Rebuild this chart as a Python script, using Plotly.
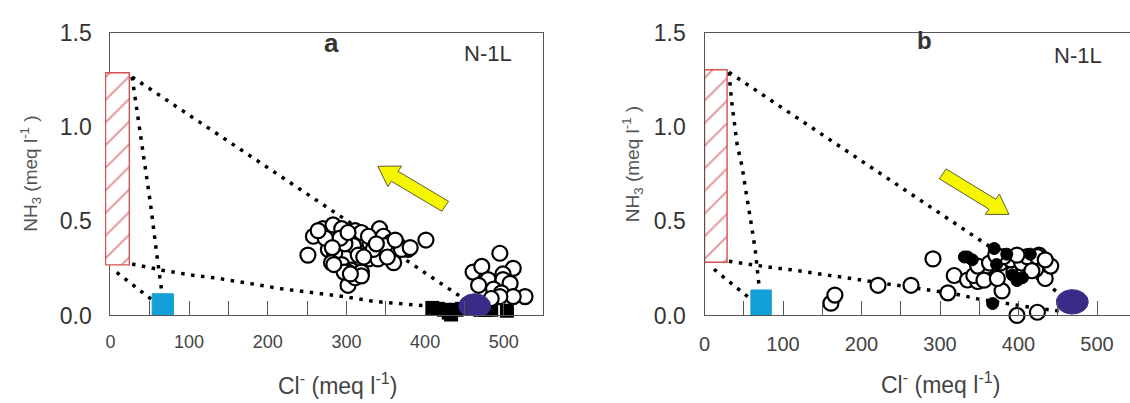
import plotly.graph_objects as go
import numpy as np

FIG_W, FIG_H = 1130, 403
FONT = "Liberation Sans, Arial, sans-serif"

# ---------------- data : panel a ----------------
a_open_cl = [251, 401, 378, 302, 258, 270, 283, 294, 311, 319, 342, 347, 357, 366, 330, 309,
             281, 277, 285, 298, 315, 328, 340, 353, 360, 281, 294, 306, 319, 311, 319, 302,
             334, 370, 349, 292, 302, 273, 264, 328, 338, 297, 305, 352, 322, 362, 282, 284,
             381, 495, 461, 472, 512, 499, 480, 499, 508, 468, 487, 497, 527, 512, 495, 484]
a_open_nh3 = [0.32, 0.40, 0.35, 0.16, 0.42, 0.46, 0.48, 0.46, 0.45, 0.44, 0.46, 0.42, 0.39, 0.37, 0.38, 0.37,
              0.38, 0.35, 0.33, 0.38, 0.32, 0.30, 0.30, 0.34, 0.28, 0.28, 0.27, 0.24, 0.23, 0.20, 0.21, 0.23,
              0.35, 0.35, 0.37, 0.41, 0.44, 0.41, 0.45, 0.42, 0.38, 0.23, 0.22, 0.31, 0.31, 0.40, 0.36, 0.27,
              0.36, 0.33, 0.23, 0.26, 0.25, 0.22, 0.19, 0.19, 0.17, 0.16, 0.14, 0.12, 0.10, 0.10, 0.10, 0.09]
a_black_cl = [409, 416, 424, 430, 433, 440, 447, 455, 462, 470, 477, 484, 504]
a_black_nh3 = [0.040, 0.035, 0.030, 0.015, 0.005, 0.030, 0.035, 0.040, 0.035, 0.030, 0.030, 0.030, 0.025]

# end-members panel a
a_rect_cl = [-6.3, 24]
a_rect_nh3 = [0.268, 1.287]
a_blue_cl = [53, 80]
a_blue_nh3 = [0.0, 0.115]
a_sea_cl, a_sea_nh3 = 463, 0.05

# mixing lines panel a
a_line1_cl = [27.5, 463]
a_line1_nh3 = [1.265, 0.05]
a_line2_cl = [27.5, 41, 50.8, 59.2, 64.7, 69.5]
a_line2_nh3 = [1.265, 0.893, 0.596, 0.314, 0.132, -0.005]
a_line3_cl = [27.5, 65.6, 101.5, 133, 184, 217.8, 260, 298, 336, 374, 403]
a_line3_nh3 = [0.273, 0.240, 0.215, 0.199, 0.165, 0.141, 0.119, 0.099, 0.074, 0.058, 0.050]
a_line4_cl = [8, 53]
a_line4_nh3 = [0.228, 0.083]

a_arrow_cl = [425.5, 340]
a_arrow_nh3 = [0.579, 0.791]

# ---------------- data : panel b ----------------
b_open_cl = [161, 166, 221, 263, 310, 291, 398, 424, 379, 434,
             318, 335, 348, 343, 360, 365, 377, 394, 394, 407, 419, 426, 441, 422, 360, 348,
             356, 373, 363, 390, 404, 411, 424, 434, 417, 381, 398, 371]
b_open_nh3 = [0.065, 0.108, 0.16, 0.16, 0.12, 0.30, 0.00, 0.017, 0.13, 0.196,
              0.212, 0.188, 0.18, 0.212, 0.204, 0.237, 0.278, 0.295, 0.229, 0.246, 0.295, 0.32, 0.262, 0.246, 0.262, 0.262,
              0.187, 0.196, 0.278, 0.295, 0.278, 0.312, 0.312, 0.295, 0.237, 0.312, 0.32, 0.32]
b_filled_cl = [331, 335, 341, 369, 367, 398, 385, 415, 405, 372, 392]
b_filled_nh3 = [0.31, 0.31, 0.295, 0.355, 0.063, 0.185, 0.325, 0.325, 0.20, 0.27, 0.215]

b_rect_cl = [0, 28.7]
b_rect_nh3 = [0.282, 1.303]
b_blue_cl = [59, 85]
b_blue_nh3 = [0.0, 0.135]
b_sea_cl, b_sea_nh3 = 468.5, 0.072

b_line1_cl = [31, 468.5]
b_line1_nh3 = [1.29, 0.072]
b_line2_cl = [31, 34.4, 41.4, 47.7, 52, 56.2, 60.4, 64.6, 66.7, 70]
b_line2_nh3 = [1.29, 1.14, 0.908, 0.792, 0.676, 0.577, 0.461, 0.345, 0.245, 0.135]
b_line3_cl = [31, 58.3, 85.8, 111.2, 162, 214.8, 267.6, 320.5, 347.8, 373, 402.6, 424, 449, 462]
b_line3_nh3 = [0.287, 0.27, 0.254, 0.242, 0.212, 0.179, 0.146, 0.113, 0.088, 0.071, 0.05, 0.038, 0.025, 0.025]
b_line4_cl = [12, 56]
b_line4_nh3 = [0.245, 0.096]

b_arrow_cl = [303.4, 387.8]
b_arrow_nh3 = [0.751, 0.536]

# ---------------- layout geometry (pixels) ----------------
Y_TOP, Y_BOT = 21, 323.3
A_L, A_R, A_XMAX = 105, 540, 550
B_L, B_R, B_XMAX = 702.3, 1130, 542
YMAX = 1.5
A_XMIN_EXT = -7  # extended (invisible) axis for the rectangle that overhangs the y-axis

ydom = [1 - Y_BOT / FIG_H, 1 - Y_TOP / FIG_H]
sy = (Y_BOT - Y_TOP) / YMAX
sx_a = (A_R - A_L) / A_XMAX
sx_b = (B_R - B_L) / B_XMAX

fig = go.Figure()


def rect_xy(xs, ys):
    return [xs[0], xs[1], xs[1], xs[0], xs[0]], [ys[0], ys[0], ys[1], ys[1], ys[0]]


def ellipse_xy(cx, cy, rx_px, ry_px, sx):
    t = np.linspace(0, 2 * np.pi, 60)
    return cx + rx_px / sx * np.cos(t), cy + ry_px / sy * np.sin(t)


def arrow_xy(xs, ys, sx, shaft=6.3, head=13, head_len=20):
    T = np.array([xs[0] * sx, ys[0] * sy])
    Hh = np.array([xs[1] * sx, ys[1] * sy])
    u = (Hh - T) / np.linalg.norm(Hh - T)
    n = np.array([-u[1], u[0]])
    B = Hh - u * head_len
    pts = [T + n * shaft, B + n * shaft, B + n * head, Hh, B - n * head, B - n * shaft, T - n * shaft, T + n * shaft]
    pts = np.array(pts)
    return pts[:, 0] / sx, pts[:, 1] / sy


def add_panel(xa, ya, rect_xa, sx, rect, blue, sea, lines, arrow, open_pts, black_pts, black_symbol, black_size):
    # mixing lines
    for lx, ly in lines:
        fig.add_trace(go.Scatter(x=lx, y=ly, mode="lines", line=dict(color="black", width=3.5, dash="3.5px,6.5px"),
                                 xaxis=xa, yaxis=ya, hoverinfo="skip"))
    # blue end-member
    bx, by = rect_xy(*blue)
    fig.add_trace(go.Scatter(x=bx, y=by, mode="lines", fill="toself", fillcolor="#139fd8",
                             line=dict(color="#139fd8", width=1), xaxis=xa, yaxis=ya, hoverinfo="skip"))
    # black markers (squares in a)
    if black_symbol == "square":
        fig.add_trace(go.Scatter(x=black_pts[0], y=black_pts[1], mode="markers", cliponaxis=False,
                                 marker=dict(symbol="square", size=black_size, color="black"),
                                 xaxis=xa, yaxis=ya))
    # open circles
    fig.add_trace(go.Scatter(x=open_pts[0], y=open_pts[1], mode="markers", cliponaxis=False,
                             marker=dict(symbol="circle", size=15, color="white", line=dict(color="black", width=2.2)),
                             xaxis=xa, yaxis=ya))
    if black_symbol != "square":
        fig.add_trace(go.Scatter(x=black_pts[0], y=black_pts[1], mode="markers", cliponaxis=False,
                                 marker=dict(symbol="circle", size=black_size, color="black",
                                             line=dict(color="black", width=1)),
                                 xaxis=xa, yaxis=ya))
    # sea-water ellipse
    ex, ey = ellipse_xy(sea[0], sea[1], 16, 13, sx)
    fig.add_trace(go.Scatter(x=ex, y=ey, mode="lines", fill="toself", fillcolor="#3b2b88",
                             line=dict(color="#3b2b88", width=1), xaxis=xa, yaxis=ya, hoverinfo="skip"))
    # yellow arrow
    ax_, ay_ = arrow_xy(arrow[0], arrow[1], sx)
    fig.add_trace(go.Scatter(x=ax_, y=ay_, mode="lines", fill="toself", fillcolor="#f6f600",
                             line=dict(color="#5c5c3a", width=1), xaxis=xa, yaxis=ya, hoverinfo="skip"))
    # hatched rectangle
    rx, ry = rect_xy(*rect)
    fig.add_trace(go.Scatter(x=rx, y=ry, mode="lines", fill="toself",
                             fillpattern=dict(shape="/", fgcolor="#c83232", bgcolor="white", size=16, solidity=0.12),
                             line=dict(color="#d65050", width=1.4), xaxis=rect_xa, yaxis=ya, hoverinfo="skip"))


add_panel("x", "y", "x3", sx_a, (a_rect_cl, a_rect_nh3), (a_blue_cl, a_blue_nh3), (a_sea_cl, a_sea_nh3),
          [(a_line1_cl, a_line1_nh3), (a_line2_cl, a_line2_nh3), (a_line3_cl, a_line3_nh3), (a_line4_cl, a_line4_nh3)],
          (a_arrow_cl, a_arrow_nh3), (a_open_cl, a_open_nh3), (a_black_cl, a_black_nh3), "square", 14)
add_panel("x2", "y2", "x2", sx_b, (b_rect_cl, b_rect_nh3), (b_blue_cl, b_blue_nh3), (b_sea_cl, b_sea_nh3),
          [(b_line1_cl, b_line1_nh3), (b_line2_cl, b_line2_nh3), (b_line3_cl, b_line3_nh3), (b_line4_cl, b_line4_nh3)],
          (b_arrow_cl, b_arrow_nh3), (b_open_cl, b_open_nh3), (b_filled_cl, b_filled_nh3), "circle", 12)

AX_COL = "#555555"


def xaxis(dom, xmax, fsize, anchor):
    return dict(domain=dom, range=[0, xmax], anchor=anchor, showgrid=False, zeroline=False, showline=True,
                linecolor=AX_COL, linewidth=1.3, mirror=True,
                ticks="inside", ticklen=14, tickcolor=AX_COL, tickwidth=1, tick0=0, dtick=100,
                minor=dict(dtick=50, ticks="inside", ticklen=14, tickcolor=AX_COL, tickwidth=1),
                tickfont=dict(family=FONT, size=fsize, color="#444"), ticklabelstandoff=10)


def yaxis(anchor, mirror):
    return dict(domain=ydom, range=[0, YMAX], anchor=anchor, showgrid=False, zeroline=False, showline=True,
                linecolor=AX_COL, linewidth=1.3, mirror=mirror, ticks="", dtick=0.5, tickformat=".1f",
                tickfont=dict(family=FONT, size=23, color="#333"), ticklabelstandoff=13)


ext_left = A_L + A_XMIN_EXT * sx_a
fig.update_layout(
    width=FIG_W, height=FIG_H, margin=dict(l=0, r=0, t=0, b=0),
    plot_bgcolor="rgba(0,0,0,0)", paper_bgcolor="white", showlegend=False,
    xaxis=xaxis([A_L / FIG_W, A_R / FIG_W], A_XMAX, 18, "y"),
    yaxis=yaxis("x", True),
    xaxis2=xaxis([B_L / FIG_W, 1.0], B_XMAX, 20, "y2"),
    yaxis2=yaxis("x2", False),
    xaxis3=dict(domain=[ext_left / FIG_W, A_R / FIG_W], range=[A_XMIN_EXT, A_XMAX], anchor="y",
                visible=False, showgrid=False, zeroline=False),
)


def ann(x, y, text, size, bold=False, angle=0, color="#333"):
    fig.add_annotation(x=x / FIG_W, y=1 - y / FIG_H, xref="paper", yref="paper", text=f"<b>{text}</b>" if bold else text,
                       showarrow=False, xanchor="center", yanchor="middle", textangle=angle,
                       font=dict(family=FONT, size=size, color=color))


ann(333, 397, "Cl<sup>-</sup> (meq l<sup>-1</sup>)", 23, color="#444")
ann(939, 395, "Cl<sup>-</sup> (meq l<sup>-1</sup>)", 23, color="#444")
ann(25, 172, "NH<sub>3</sub> (meq l<sup>-1</sup> )", 19, angle=-90, color="#555")
ann(630, 162, "NH<sub>3</sub> (meq l<sup>-1</sup> )", 19, angle=-90, color="#555")
ann(327, 32, "a", 26, bold=True)
ann(923, 29, "b", 24, bold=True)
ann(485, 43, "N-1L", 22)
ann(1078, 45, "N-1L", 22)

fig.write_html("out.html")
